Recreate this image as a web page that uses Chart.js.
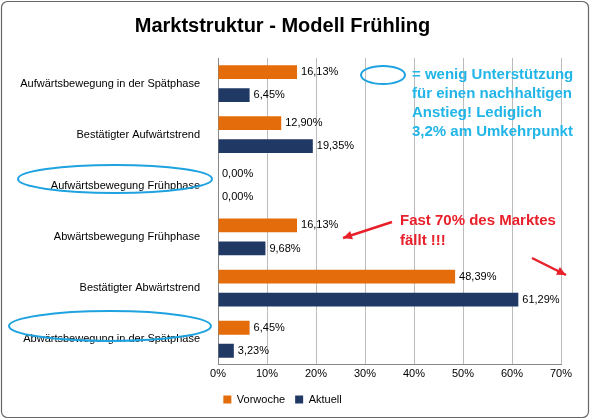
<!DOCTYPE html>
<html><head><meta charset="utf-8">
<script src="https://cdn.jsdelivr.net/npm/chart.js@4/dist/chart.umd.min.js"></script>
<style>html,body{margin:0;padding:0;background:#fff}#w{position:relative;width:590px;height:419px}</style>
</head><body><div id="w"><canvas id="c" width="590" height="419"></canvas></div>
<script>
const categories=["Aufwärtsbewegung in der Spätphase","Bestätigter Aufwärtstrend","Aufwärtsbewegung Frühphase","Abwärtsbewegung Frühphase","Bestätigter Abwärtstrend","Abwärtsbewegung in der Spätphase"];
const vorwoche=[16.13,12.90,0,16.13,48.39,6.45];
const aktuell=[6.45,19.35,0,9.68,61.29,3.23];
const xTicks=[0,10,20,30,40,50,60,70];
const fmt=v=>v.toFixed(2).replace('.',',')+'%';
const deco={id:'deco',afterDraw(ch){
 const c=ch.ctx;c.save();
 c.font='11px "Liberation Sans", Arial';c.fillStyle='#000';c.textBaseline='middle';
 ch.data.datasets.forEach((ds,i)=>{ch.getDatasetMeta(i).data.forEach((b,j)=>{c.fillText(fmt(ds.data[j]),b.x+4,b.y);});});
 c.strokeStyle='#666';c.lineWidth=1.2;c.beginPath();c.roundRect(1.5,1.5,587,416,6);c.stroke();
 c.strokeStyle='#1fa3e0';c.lineWidth=2;
 const ell=(x,y,rx,ry)=>{c.beginPath();c.ellipse(x,y,rx,ry,0,0,Math.PI*2);c.stroke();};
 ell(383,75,22,9);ell(115,179,97,14);ell(110,326,101,15);
 c.fillStyle='#22b5e8';c.font='bold 15px "Liberation Sans", Arial';c.textBaseline='alphabetic';
 ['= wenig Unterstützung','für einen nachhaltigen','Anstieg! Lediglich','3,2% am Umkehrpunkt'].forEach((t,i)=>c.fillText(t,412,79+i*19));
 c.fillStyle='#e8202a';
 c.fillText('Fast 70% des Marktes',400,225);c.fillText('fällt !!!',400,245);
 const arr=(x1,y1,x2,y2)=>{c.strokeStyle='#e8202a';c.fillStyle='#e8202a';c.lineWidth=2.5;c.beginPath();c.moveTo(x1,y1);c.lineTo(x2,y2);c.stroke();
  const a=Math.atan2(y2-y1,x2-x1);c.beginPath();c.moveTo(x2,y2);c.lineTo(x2-10*Math.cos(a-0.45),y2-10*Math.sin(a-0.45));c.lineTo(x2-10*Math.cos(a+0.45),y2-10*Math.sin(a+0.45));c.closePath();c.fill();};
 arr(392,222,343,238);arr(532,258,566,275);
 c.restore();}};
new Chart(document.getElementById('c'),{type:'bar',
 data:{labels:categories,datasets:[
  {label:'Vorwoche',data:vorwoche,backgroundColor:'#E46C0A',barPercentage:0.6,categoryPercentage:0.9},
  {label:'Aktuell',data:aktuell,backgroundColor:'#1F3864',barPercentage:0.6,categoryPercentage:0.9}]},
 options:{indexAxis:'y',responsive:false,animation:false,devicePixelRatio:1,
  layout:{padding:{left:4,right:29,top:0,bottom:4}},
  plugins:{title:{display:true,text:'Marktstruktur - Modell Frühling',font:{family:'"Liberation Sans", Arial',size:20,weight:'bold'},color:'#000',padding:{top:14,bottom:20}},
   legend:{position:'bottom',labels:{boxWidth:8,boxHeight:8,font:{family:'"Liberation Sans", Arial',size:11},color:'#000'}},tooltip:{enabled:false}},
  scales:{x:{min:0,max:70,afterBuildTicks:s=>{s.ticks=xTicks.map(v=>({value:v}));},
    ticks:{callback:v=>v+'%',maxRotation:0,font:{family:'"Liberation Sans", Arial',size:11},color:'#000'},grid:{color:'#bbb',drawTicks:false},border:{color:'#888'}},
   y:{afterFit:s=>{s.width=214;},ticks:{font:{family:'"Liberation Sans", Arial',size:11},color:'#000',padding:10},grid:{display:false},border:{color:'#888'}}}},
 plugins:[deco]});
</script></body></html>
